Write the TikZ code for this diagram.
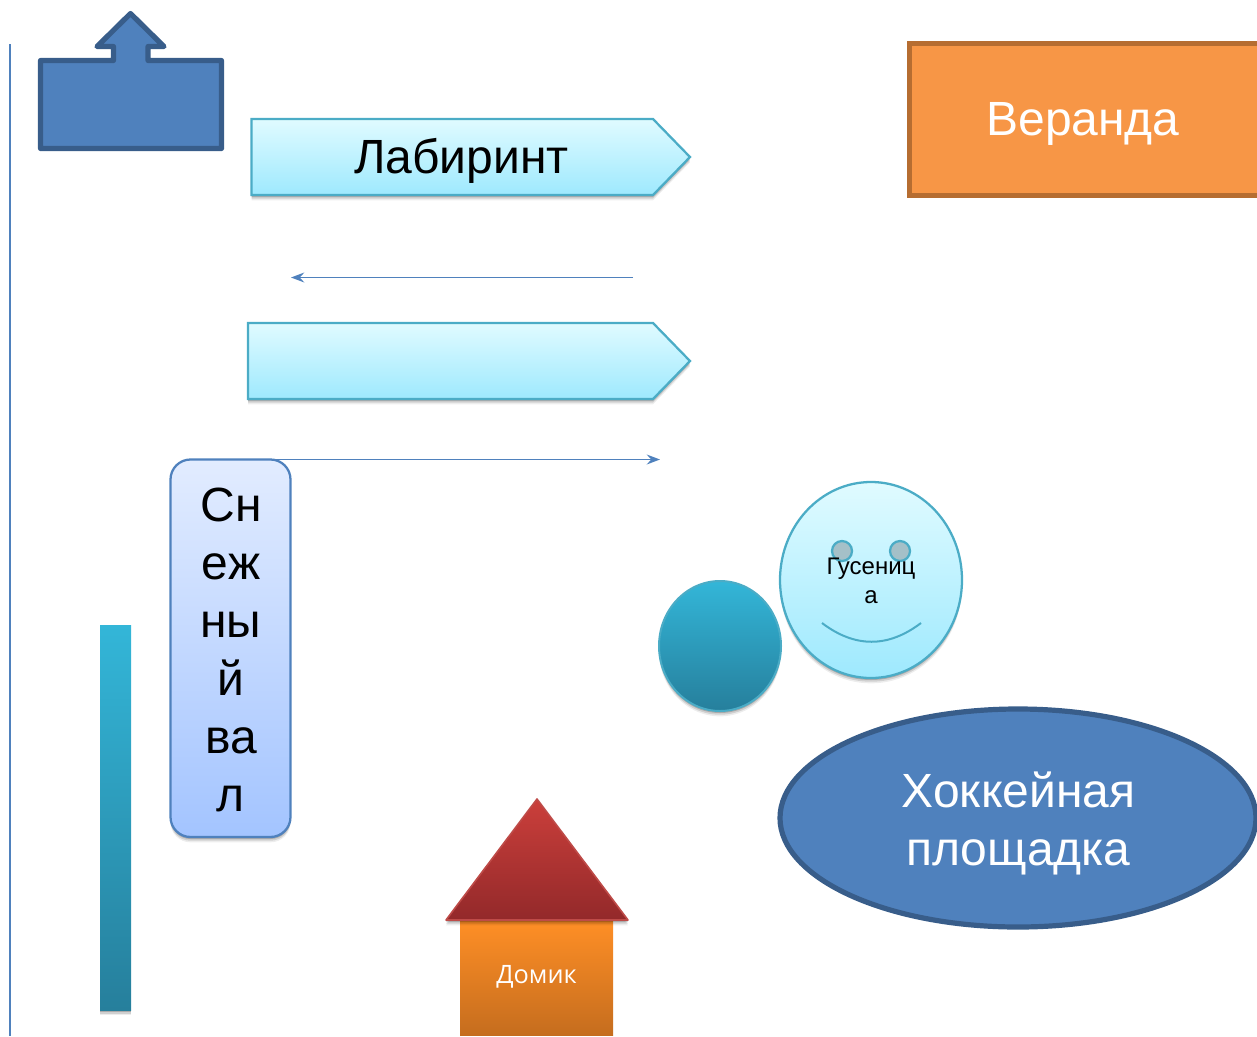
\documentclass[tikz,border=0pt]{standalone}
\usepackage{fontspec}
\setmainfont{Liberation Sans}
\newfontfamily\domikfont{Open Sans}
\usetikzlibrary{shadows,arrows.meta}
\definecolor{blueF}{HTML}{4F81BD}
\definecolor{blueS}{HTML}{385D8A}
\definecolor{aquaS}{HTML}{4BACC6}
\definecolor{aquaT}{HTML}{E0FBFF}
\definecolor{aquaB}{HTML}{9EE9FE}
\definecolor{tealT}{HTML}{33B6D8}
\definecolor{tealB}{HTML}{267F9C}
\definecolor{orF}{HTML}{F79646}
\definecolor{orS}{HTML}{B66D31}
\definecolor{snowT}{HTML}{E2ECFF}
\definecolor{snowB}{HTML}{A3C4FF}
\definecolor{roofT}{HTML}{CB3F3B}
\definecolor{roofB}{HTML}{93292A}
\definecolor{roofS}{HTML}{BE4B48}
\definecolor{wallT}{HTML}{FF8F26}
\definecolor{wallB}{HTML}{C56D1E}
\definecolor{eyeF}{HTML}{A5C0C8}
\newcommand{\pxfont}[2]{\fontsize{#1}{#2}\selectfont}
\tikzset{
  x=0.75pt,y=-0.75pt,
  softshadow/.style={
    general shadow={fill=black,opacity=.07,shadow xshift=0pt,shadow yshift=-4pt},
    general shadow={fill=black,opacity=.12,shadow xshift=0pt,shadow yshift=-2.8pt},
    general shadow={fill=black,opacity=.18,shadow xshift=0pt,shadow yshift=-1.5pt}},
  solidblue/.style={fill=blueF,draw=blueS,line width=3.9pt,line join=round},
  pale/.style={top color=aquaT,bottom color=aquaB,draw=aquaS,line width=1.7pt,softshadow},
  tealfill/.style={top color=tealT,bottom color=tealB,softshadow},
  thinarrow/.style={draw=blueF,line width=1.3pt,-{Stealth[length=10pt,width=7.5pt,inset=3.5pt]}},
  big/.style={font=\pxfont{36}{43.5},align=center,inner sep=0pt},
  small/.style={font=\pxfont{18}{21.8},align=center,inner sep=0pt}
}
\begin{document}
\begin{tikzpicture}
\useasboundingbox (0,0) rectangle (1257,1036);
% left rule
\coordinate (ruleTop) at (10,44);
\coordinate (ruleEnd) at (10,1036);
\draw[draw=blueF,line width=1.3pt] (ruleTop) -- (ruleEnd);
% upward-arrow callout
\draw[solidblue] (40.5,60.5) -- (113.5,60.5) -- (113.5,46.5) -- (97,46.5) -- (130.5,13.5) -- (164,46.5) -- (148,46.5) -- (148,60.5) -- (221.5,60.5) -- (221.5,148.5) -- (40.5,148.5) -- cycle;
% pentagons
\draw[pale] (251.5,119) -- (653,119) -- (690,157) -- (653,195) -- (251.5,195) -- cycle;
\node[big,text=black] (lab) at (461.5,161) {Лабиринт};
\draw[pale] (248,323) -- (653,323) -- (690,361) -- (653,399) -- (248,399) -- cycle;
% arrows
\coordinate (a1s) at (633,277.5);
\coordinate (a1e) at (291,277.5);
\draw[thinarrow] (a1s) -- (a1e);
\coordinate (a2s) at (270,459.5);
\coordinate (a2e) at (660,459.5);
\draw[thinarrow] (a2s) -- (a2e);
% snow bank
\draw[rounded corners=15pt,top color=snowT,bottom color=snowB,draw=blueF,line width=1.7pt,softshadow] (170.5,459.5) rectangle (290.5,837);
\node[big,text=black] (snow) at (231,650) {Сн\\еж\\ны\\й\\ва\\л};
% bar
\fill[tealfill] (100,625) rectangle (131,1010);
% circles
\draw[tealfill,draw=aquaS,line width=1.5pt] (720,646) ellipse [x radius=61,y radius=65];
\draw[pale] (871,580) ellipse [x radius=91,y radius=98];
\filldraw[fill=eyeF,draw=aquaS,line width=1.7pt] (842,551) circle [radius=10];
\filldraw[fill=eyeF,draw=aquaS,line width=1.7pt] (900,551) circle [radius=10];
\draw[aquaS,line width=1.5pt] (822,623) .. controls (855,648) and (888,648) .. (921,623);
\node[small,text=black] (gus) at (871,580.5) {Гусениц\\а};
% rink
\draw[solidblue] (1018,818) ellipse [x radius=238,y radius=109];
\node[big,text=white] (rink) at (1018.5,823) {Хоккейная\\площадка};
% veranda
\draw[fill=orF,draw=orS,line width=3.9pt] (909.5,43.5) rectangle (1262,195.5);
\node[big,text=white] (ver) at (1083,124) {Веранда};
% house
\shade[top color=wallT,bottom color=wallB] (460,920) rectangle (613,1035);
\node[font=\domikfont\pxfont{19}{24},text=white,inner sep=0pt] (dom) at (536.5,977) {Домик};
\draw[top color=roofT,bottom color=roofB,draw=roofS,line width=1.2pt,line join=round,softshadow] (537,799) -- (628,920) -- (446,920) -- cycle;
\end{tikzpicture}
\end{document}
